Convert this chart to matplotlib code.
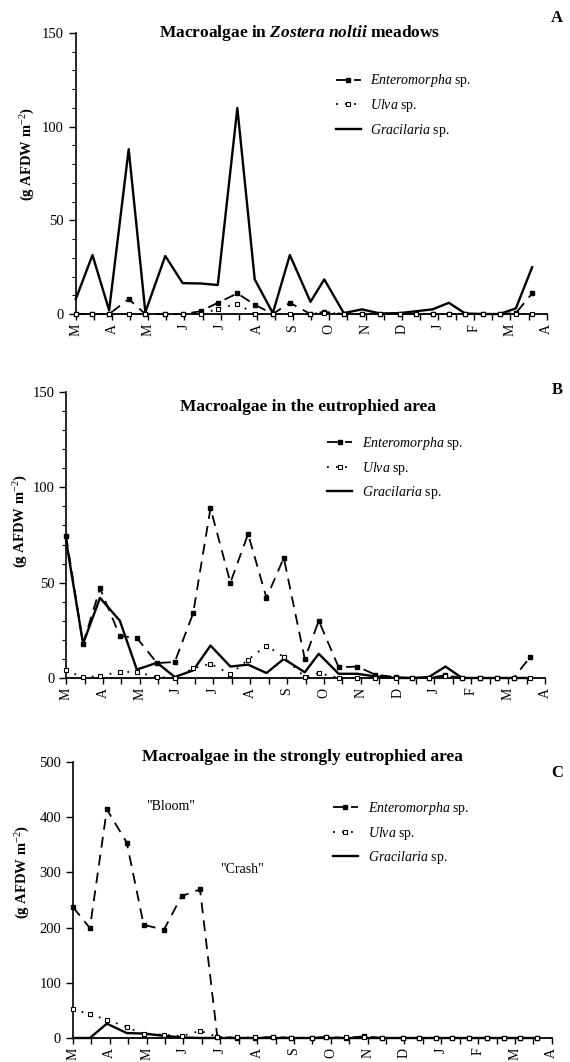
import numpy as np
import matplotlib
matplotlib.use('Agg')
import matplotlib.pyplot as plt
from matplotlib.ticker import MultipleLocator

plt.rcParams['font.family'] = ['Liberation Serif', 'DejaVu Serif']
plt.rcParams['mathtext.fontset'] = 'custom'
plt.rcParams['mathtext.rm'] = 'Liberation Serif'
plt.rcParams['mathtext.it'] = 'Liberation Serif:italic'
plt.rcParams['mathtext.bf'] = 'Liberation Serif:bold:italic'

# sampling dates, in months from the first March
t = [0, 0.46, 0.92, 1.46, 1.92, 2.47, 2.95, 3.45, 3.92, 4.46, 4.94, 5.44, 5.91, 6.48,
     6.86, 7.4, 7.9, 8.4, 8.95, 9.4, 9.85, 10.3, 10.75, 11.25, 11.7, 12.15, 12.6]
months = ['M', 'A', 'M', 'J', 'J', 'A', 'S', 'O', 'N', 'D', 'J', 'F', 'M', 'A']

# A: Zostera noltii meadows
entA = [0, 0, 0, 8, 0, 0, 0, 1.5, 6, 11, 5, 0, 6, 0, 1.2, 0, 0, 0, 0, 0, 0, 0, 0, 0, 0, 0.5, 11]
ulvA = [0, 0, 0, 0, 0, 0, 0, 0, 2.7, 5.5, 0, 0, 0, 0, 0.8, 0, 0, 0, 0, 0, 0, 0, 0, 0, 0, 0, 0]
graA = [8, 31.5, 2, 88, 1, 31, 16.5, 16.3, 15.5, 110, 18.5, 0.5, 31.5, 6.5, 18.5, 0.5, 2.5,
        0.3, 0.5, 1.5, 2.5, 6, 0.3, 0, 0, 3, 25]

# B: eutrophied area
entB = [74.5, 18, 47, 22, 21, 7.8, 8.4, 34, 89, 50, 75.5, 42, 63, 10, 30, 5.6, 6, 1.7, 0.5,
        0, 0, 1.5, 0, 0, 0, 0, 11]
ulvB = [4, 0.3, 1, 3.3, 3, 0.5, 0, 5, 7.5, 2, 9.6, 17, 11, 0.5, 2.6, 0, 0, 0, 0, 0, 0, 1, 0,
        0, 0, 0, 0]
graB = [72, 18, 42, 30, 4.4, 8, 0.5, 4, 17, 6, 7, 2.6, 10, 3, 12.7, 2.2, 2.2, 0.8, 0, 0, 0.5,
        6, 0, 0, 0, 0, 0]

# C: strongly eutrophied area
entC = [237, 199, 414, 354, 205, 196, 257, 269, 2, 0, 0, 2, 0, 0, 2, 0, 3, 0, 0, 0, 0, 0, 0,
        0, 0, 0, 0]
ulvC = [52, 43, 33, 20, 7, 6, 3, 13, 2, 1, 1, 1.5, 0.5, 0.5, 1, 1, 1, 0, 0, 0, 0, 0, 0, 0, 0,
        0, 0]
graC = [0, 0, 26, 9, 8, 4, 1, 0, 0, 0, 0, 0, 0, 0, 0, 0, 0, 0, 0, 0, 0, 0, 0, 0, 0, 0, 0]

labels = [r'$\mathit{Enteromorpha}$ sp.', r'$\mathit{Ulva}$ sp.', r'$\mathit{Gracilaria}$ sp.']

fig = plt.figure(figsize=(5.7, 10.62), dpi=100)


def panel(rect, ent, ulv, gra, ymax, yminor, title, letter, ylab_xy, title_xy, leg_xy):
    ax = fig.add_axes(rect)
    l1, = ax.plot(t, ent, color='k', lw=1.3, ls=(0, (6, 4)), marker='s', ms=3.5,
                  mfc='k', mec='k', clip_on=False, zorder=4)
    l2, = ax.plot(t, ulv, color='k', lw=1.3, ls=(0, (1, 4)), marker='s', ms=3.5,
                  mfc='white', mec='k', mew=0.8, clip_on=False, zorder=5)
    l3, = ax.plot(t, gra, color='k', lw=1.7, ls='-', clip_on=False, zorder=3)
    ax.set_xlim(0, 13)
    ax.set_ylim(0, ymax)
    ax.spines['top'].set_visible(False)
    ax.spines['right'].set_visible(False)
    ax.spines['left'].set_linewidth(1.2)
    ax.spines['bottom'].set_linewidth(1.3)
    ax.set_xticks(range(14))
    ax.set_xticklabels(months, rotation=90, fontsize=10)
    ax.xaxis.set_minor_locator(MultipleLocator(0.5))
    ax.tick_params(axis='x', which='both', length=4, width=1, direction='out', pad=3)
    ax.yaxis.set_major_locator(MultipleLocator(50 if ymax == 150 else 100))
    if yminor:
        ax.yaxis.set_minor_locator(MultipleLocator(yminor))
    ax.tick_params(axis='y', which='major', length=5, width=1, labelsize=10.5)
    ax.tick_params(axis='y', which='minor', length=3, width=0.8)
    ax.set_ylabel(r'(g AFDW m$^{-2}$)', fontsize=10.5, fontweight='bold')
    ax.yaxis.set_label_coords(*ylab_xy)
    ax.text(title_xy[0], title_xy[1], title, transform=ax.transAxes, ha='center',
            va='center', fontsize=12.5, fontweight='bold')
    fig.text(0.977, letter[1], letter[0], ha='center', va='center', fontsize=12,
             fontweight='bold')
    ax.legend([l1, l2, l3], labels, loc='upper left', bbox_to_anchor=leg_xy,
              frameon=False, fontsize=10, handlelength=1.8, handletextpad=0.7,
              labelspacing=0.55, borderpad=0, borderaxespad=0, numpoints=1)
    return ax


panel([0.133, 0.7043, 0.826, 0.2646], entA, ulvA, graA, 150, 10,
      r'Macroalgae in $\mathbf{Zostera\ noltii}$ meadows', ('A', 0.983),
      (-0.083, 0.57), (0.476, 1.0), (0.552, 0.86))
panel([0.116, 0.3616, 0.84, 0.2693], entB, ulvB, graB, 150, 10,
      'Macroalgae in the eutrophied area', ('B', 0.633),
      (-0.075, 0.55), (0.505, 0.947), (0.545, 0.85))
axC = panel([0.128, 0.0226, 0.84, 0.26], entC, ulvC, graC, 500, None,
            'Macroalgae in the strongly eutrophied area', ('C', 0.272),
            (-0.086, 0.60), (0.48, 1.018), (0.543, 0.862))
axC.text(2.65, 420, '"Bloom"', fontsize=10, ha='center', va='center')
axC.text(4.6, 305, '"Crash"', fontsize=10, ha='center', va='center')

fig.savefig('out.png', dpi=100)
